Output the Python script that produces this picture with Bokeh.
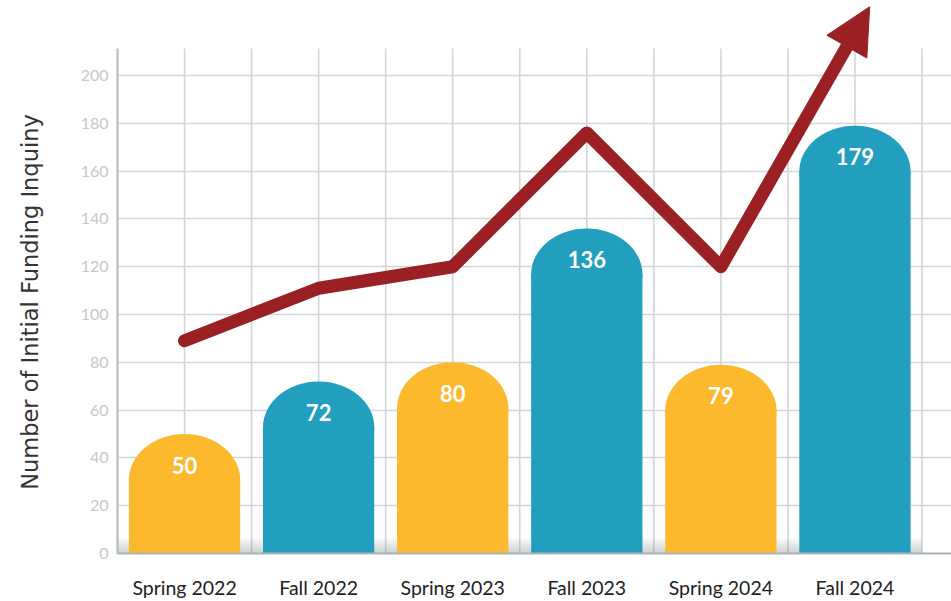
from bokeh.plotting import figure
from bokeh.models import Range1d, FixedTicker, Arrow, NormalHead, ColumnDataSource
from bokeh.core.properties import value
from bokeh.embed import file_html
from bokeh.resources import INLINE

# ---- data ----
categories = ["Spring 2022", "Fall 2022", "Spring 2023", "Fall 2023", "Spring 2024", "Fall 2024"]
inquiries = [50, 72, 80, 136, 79, 179]
trend = [89, 111, 120, 176, 120, 218]
bar_colors = ["#FDB92E", "#229EBE", "#FDB92E", "#229EBE", "#FDB92E", "#229EBE"]
y_ticks = [0, 20, 40, 60, 80, 100, 120, 140, 160, 180, 200]
y_title = "Number of Initial Funding Inquiny"

n = len(categories)
xs = [i + 0.5 for i in range(n)]

BAR_W = 0.83
CAP = 19.2          # height of the rounded cap, in data units
GRID_TOP = 211.3
X_END = 6.22
Y_END = 231.4

p = figure(width=951, height=601, output_backend="svg", toolbar_location=None,
           x_range=Range1d(0, X_END), y_range=Range1d(0, Y_END),
           min_border_left=117, min_border_right=0, min_border_top=0, min_border_bottom=48)
p.outline_line_color = None
p.background_fill_color = "white"

# grids
p.xgrid.visible = False
p.ygrid.ticker = FixedTicker(ticks=y_ticks[1:])
p.ygrid.grid_line_color = "#d3d6d8"
p.ygrid.grid_line_width = 1.6

# vertical grid lines (half-category spacing)
vx = [k * 0.5 for k in range(1, 2 * n + 1)]
p.segment(x0=vx, y0=[0] * len(vx), x1=vx, y1=[GRID_TOP] * len(vx),
          line_color="#d3d6d8", line_width=1.6)

# soft shadow along the baseline
for k in range(8):
    p.quad(left=[0], right=[6.0], bottom=[0], top=[0.8 * (k + 1)],
           fill_color="#6f8592", fill_alpha=0.05, line_color=None)

# bars with rounded tops
src = ColumnDataSource(dict(
    x=xs, v=inquiries, body=[v - CAP for v in inquiries], c=bar_colors,
    left=[x - BAR_W / 2 for x in xs], right=[x + BAR_W / 2 for x in xs],
    lab=[str(v) for v in inquiries], ly=[v - 13 for v in inquiries]))
p.quad(left="left", right="right", bottom=0, top="body", fill_color="c", line_color=None, source=src)
p.ellipse(x="x", y="body", width=BAR_W, height=2 * CAP, fill_color="c", line_color=None, source=src)
p.text(x="x", y="ly", text="lab", source=src, text_align="center", text_baseline="middle",
       text_color="white", text_font=value("Lato"), text_font_style="bold", text_font_size="22px")

# trend line with arrow
p.line(x=xs[:-1], y=trend[:-1], line_color="#9B2023", line_width=13,
       line_join="round", line_cap="round")
ext = 0.11
tip_x = xs[-1] + ext * (xs[-1] - xs[-2])
tip_y = trend[-1] + ext * (trend[-1] - trend[-2])
p.add_layout(Arrow(x_start=xs[-2], y_start=trend[-2], x_end=tip_x, y_end=tip_y,
                   line_color="#9B2023", line_width=13,
                   end=NormalHead(size=46, fill_color="#9B2023", line_color="#9B2023")))

# axes
xa = p.xaxis[0]
xa.ticker = FixedTicker(ticks=xs)
xa.major_label_overrides = {x: c for x, c in zip(xs, categories)}
xa.major_tick_line_color = None
xa.minor_tick_line_color = None
xa.major_tick_out = 0
xa.minor_tick_out = 0
xa.axis_line_color = "#aeb1b3"
xa.axis_line_width = 2.2
xa.major_label_standoff = 22
xa.major_label_text_font = "Lato"
xa.major_label_text_font_size = "19.5px"
xa.major_label_text_color = "#222222"

ya = p.yaxis[0]
ya.ticker = FixedTicker(ticks=y_ticks)
ya.bounds = (0, GRID_TOP)
ya.major_tick_line_color = None
ya.minor_tick_line_color = None
ya.major_tick_out = 0
ya.minor_tick_out = 0
ya.axis_line_color = "#b9bcbe"
ya.axis_line_width = 2.2
ya.major_label_standoff = 9
ya.major_label_text_font = "Lato"
ya.major_label_text_font_size = "16px"
ya.major_label_text_color = "#c5c8ca"
# trailing no-break spaces shift the centred title down to the gridded area's middle
ya.axis_label = y_title + "\u00a0" * 7
ya.axis_label_standoff = 35
ya.axis_label_text_font = "DejaVu Sans"
ya.axis_label_text_font_size = "22.5px"
ya.axis_label_text_font_style = "normal"
ya.axis_label_text_color = "#333333"

open("out.html", "w").write(file_html(p, INLINE))
